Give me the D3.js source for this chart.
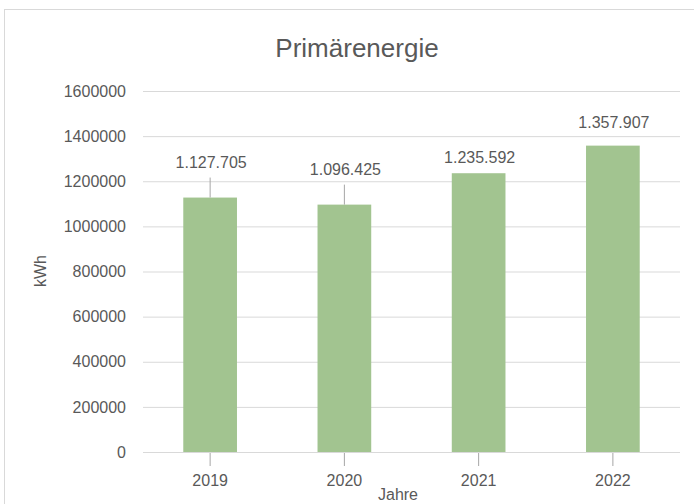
<!DOCTYPE html>
<html>
<head>
<meta charset="utf-8">
<script src="https://cdn.jsdelivr.net/npm/d3@7"></script>
<style>
  body { margin: 0; background: #fff; }
  svg text { font-family: "Liberation Sans", Arial, sans-serif; fill: #595959; }
</style>
</head>
<body>
<svg id="chart" width="694" height="504"></svg>
<script>
// Primärenergie je Jahr
const years = ["2019", "2020", "2021", "2022"];
const values = [1127705, 1096425, 1235592, 1357907];
const yTicks = [0, 200000, 400000, 600000, 800000, 1000000, 1200000, 1400000, 1600000];

const svg = d3.select("#chart");
const m = {left: 143, right: 680, top: 91, bottom: 452};

// Rahmen
svg.append("rect")
    .attr("x", 4.5).attr("y", 9.5)
    .attr("width", 720).attr("height", 520)
    .attr("fill", "none").attr("stroke", "#d9d9d9");

const x = d3.scaleBand().domain(years).range([m.left, m.right]).paddingInner(0.6).paddingOuter(0.3);
const y = d3.scaleLinear().domain([0, 1600000]).range([m.bottom, m.top]);

// gridlines + y labels
const yAxis = svg.append("g")
    .attr("transform", `translate(${m.left},0)`)
    .call(d3.axisLeft(y).tickValues(yTicks).tickFormat(d3.format("d")).tickSize(-(m.right - m.left)).tickPadding(17));
yAxis.select(".domain").remove();
yAxis.selectAll(".tick line").attr("stroke", "#d9d9d9");
yAxis.selectAll(".tick text").attr("font-size", 16);

// bars
svg.append("g").selectAll("rect")
    .data(values)
    .enter().append("rect")
    .attr("x", (d, i) => x(years[i]))
    .attr("y", d => y(d))
    .attr("width", x.bandwidth())
    .attr("height", d => y(0) - y(d))
    .attr("fill", "#a2c490");

// x axis
const xAxis = svg.append("g")
    .attr("transform", `translate(0,${m.bottom})`)
    .call(d3.axisBottom(x).tickSize(14).tickPadding(9).tickSizeOuter(0));
xAxis.select(".domain").remove();
xAxis.selectAll(".tick line").attr("stroke", "#a6a6a6");
xAxis.selectAll(".tick text").attr("font-size", 16);
svg.append("line")
    .attr("x1", m.left).attr("x2", m.right)
    .attr("y1", y(0) + 0.5).attr("y2", y(0) + 0.5)
    .attr("stroke", "#d9d9d9");

// value labels (first two pushed up with leader lines)
const fmt = v => d3.format(",")(v).replace(/,/g, ".");
const labelOffset = [30, 30, 10, 18];
const lbl = svg.append("g").selectAll("g")
    .data(values)
    .enter().append("g");
lbl.append("text")
    .attr("x", (d, i) => x(years[i]) + x.bandwidth() / 2 + 1)
    .attr("y", (d, i) => y(d) - labelOffset[i])
    .attr("text-anchor", "middle")
    .attr("font-size", 16)
    .text(fmt);
lbl.filter((d, i) => labelOffset[i] > 20).append("line")
    .attr("x1", (d, i) => x(years[i]) + x.bandwidth() / 2)
    .attr("x2", (d, i) => x(years[i]) + x.bandwidth() / 2)
    .attr("y1", (d, i) => y(d) - labelOffset[i] + 10)
    .attr("y2", d => y(d))
    .attr("stroke", "#a6a6a6");

// titles
svg.append("text")
    .attr("x", 357).attr("y", 57)
    .attr("text-anchor", "middle")
    .attr("font-size", 26)
    .text("Primärenergie");
svg.append("text")
    .attr("x", 398).attr("y", 500)
    .attr("text-anchor", "middle")
    .attr("font-size", 16)
    .text("Jahre");
svg.append("text")
    .attr("transform", "translate(46,271) rotate(-90)")
    .attr("text-anchor", "middle")
    .attr("font-size", 16)
    .text("kWh");
</script>
</body>
</html>
